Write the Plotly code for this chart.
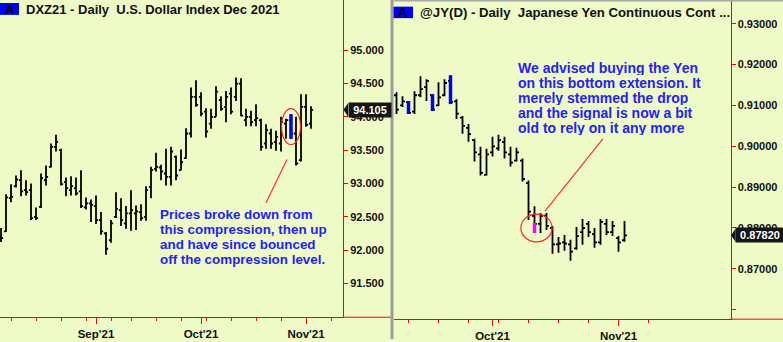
import plotly.graph_objects as go
import pandas as pd

W, H = 783, 342
BG = "#EEFBC6"
RED = "#FF0000"
TXT_BLUE = "#2222FF"
FONT = "Liberation Sans, Arial, sans-serif"

# ---------------- DATA: DXZ21 (U.S. Dollar Index Dec 2021) ----------------
dxy_dates = pd.bdate_range("2021-08-05", "2021-11-02", freq="C", holidays=["2021-09-06"])
dxy_axis_days = pd.bdate_range("2021-08-05", "2021-11-12", freq="C", holidays=["2021-09-06"])
dxy_open = [92.20, 92.28, 92.78, 92.96, 93.05, 92.90, 92.90, 92.50, 92.65, 93.05,
            93.25, 93.55, 93.50, 93.02, 92.90, 92.93, 92.88, 92.64, 92.70, 92.66,
            92.45, 92.25, 92.15, 92.50, 92.60, 92.40, 92.55, 92.55, 92.57, 92.50,
            92.95, 93.22, 93.24, 93.15, 93.10, 93.40, 93.20, 93.38, 93.75, 94.30,
            94.30, 94.08, 93.90, 94.00, 94.25, 94.15, 94.35, 94.30, 94.50, 93.95,
            94.00, 93.95, 93.95, 93.60, 93.75, 93.62, 93.60, 93.90, 93.95, 93.75,
            93.35, 94.15, 93.90]
dxy_high = [92.33, 92.84, 92.99, 93.12, 93.20, 93.05, 93.00, 92.64, 93.15, 93.27,
            93.60, 93.73, 93.52, 93.09, 93.11, 93.09, 93.20, 92.79, 92.76, 92.82,
            92.57, 92.27, 92.45, 92.87, 92.78, 92.66, 92.90, 92.67, 92.69, 92.96,
            93.25, 93.46, 93.28, 93.52, 93.55, 93.42, 93.51, 93.83, 94.44, 94.55,
            94.37, 94.13, 94.12, 94.46, 94.31, 94.39, 94.44, 94.59, 94.58, 94.12,
            94.09, 94.19, 93.97, 93.89, 93.82, 93.79, 94.00, 93.97, 94.04, 94.00,
            94.34, 94.34, 94.16]
dxy_low = [92.12, 92.27, 92.72, 92.94, 92.81, 92.82, 92.45, 92.45, 92.63, 92.97,
           93.24, 93.48, 92.97, 92.81, 92.82, 92.82, 92.63, 92.61, 92.42, 92.39,
           92.23, 91.93, 92.11, 92.48, 92.36, 92.32, 92.29, 92.30, 92.44, 92.44,
           92.78, 93.18, 93.05, 92.97, 92.97, 93.05, 93.20, 93.37, 93.69, 94.15,
           94.01, 93.69, 93.82, 94.00, 94.09, 93.92, 94.04, 94.24, 94.01, 93.86,
           93.86, 93.86, 93.49, 93.52, 93.52, 93.49, 93.48, 93.67, 93.67, 93.27,
           93.33, 93.85, 93.82]
dxy_close = [92.18, 92.79, 92.80, 93.06, 92.88, 92.87, 92.48, 92.48, 93.08, 93.10,
             93.55, 93.62, 92.99, 92.93, 92.96, 92.85, 92.66, 92.70, 92.68, 92.45,
             92.28, 92.02, 92.40, 92.62, 92.45, 92.55, 92.60, 92.58, 92.48, 92.90,
             93.20, 93.25, 93.18, 93.10, 93.48, 93.12, 93.32, 93.75, 94.30, 94.18,
             94.05, 93.78, 94.00, 94.38, 94.12, 94.30, 94.08, 94.50, 94.02, 94.00,
             93.92, 93.98, 93.55, 93.80, 93.60, 93.70, 93.92, 93.95, 93.75, 93.30,
             94.15, 93.88, 94.105]
dxy_blue_idx = [58]
dxy_yticks = [91.5, 92.0, 92.5, 93.0, 93.5, 94.0, 94.5, 95.0]
dxy_last_label = "94.105"

# ---------------- DATA: @JY(D) (Japanese Yen Continuous) ----------------
jy_dates = pd.bdate_range("2021-09-09", "2021-11-02", freq="C")
jy_axis_days = pd.bdate_range("2021-09-09", "2021-11-12", freq="C")
jy_open = [0.9125, 0.9100, 0.9108, 0.9085, 0.9125, 0.9145, 0.9125, 0.9100, 0.9125, 0.9160,
           0.9110, 0.9070, 0.9045, 0.9015, 0.8980, 0.8930, 0.8985, 0.8995, 0.9010, 0.8980,
           0.8965, 0.8965, 0.8910, 0.8830, 0.8810, 0.8830, 0.8800, 0.8760, 0.8765, 0.8760,
           0.8750, 0.8790, 0.8810, 0.8785, 0.8765, 0.8810, 0.8790, 0.8775, 0.8770]
jy_high = [0.91325, 0.91228, 0.91107, 0.91350, 0.91714, 0.91641, 0.91277, 0.91568, 0.91641, 0.91738,
           0.91155, 0.90743, 0.90549, 0.90184, 0.89990, 0.89942, 0.90233, 0.90282, 0.90233, 0.89990,
           0.89966, 0.89699, 0.89165, 0.88534, 0.88364, 0.88364, 0.88049, 0.87782, 0.87830, 0.87709,
           0.88024, 0.88218, 0.88170, 0.88000, 0.88218, 0.88218, 0.88170, 0.87806, 0.88170]
jy_low = [0.90791, 0.90961, 0.90791, 0.90791, 0.91204, 0.91107, 0.90864, 0.90985, 0.91228, 0.91034,
          0.90670, 0.90306, 0.90112, 0.89626, 0.89286, 0.89286, 0.89748, 0.89893, 0.89699, 0.89505,
          0.89626, 0.89141, 0.88194, 0.87879, 0.87879, 0.87951, 0.87369, 0.87393, 0.87442, 0.87199,
          0.87466, 0.87587, 0.87782, 0.87515, 0.87587, 0.87830, 0.87806, 0.87417, 0.87660]
jy_close = [0.9090, 0.9110, 0.9082, 0.9125, 0.9140, 0.9160, 0.9090, 0.9120, 0.9155, 0.9108,
            0.9080, 0.9050, 0.9030, 0.8985, 0.8935, 0.8980, 0.9000, 0.9015, 0.8985, 0.8960,
            0.8985, 0.8920, 0.8840, 0.8810, 0.8830, 0.8805, 0.8760, 0.8762, 0.8762, 0.8742,
            0.8780, 0.8800, 0.8790, 0.8765, 0.8815, 0.8790, 0.8805, 0.8765, 0.8782]
jy_blue_idx = [2, 6, 9]
jy_magenta_idx = [23]
jy_magenta_lo = [0.87879]
jy_magenta_hi = [0.88121]
jy_yticks = [0.86, 0.87, 0.88, 0.89, 0.90, 0.91, 0.92, 0.93]
jy_last_label = "0.87820"

title_left = "DXZ21 - Daily\u00a0\u00a0U.S. Dollar Index Dec 2021"
title_right = "@JY(D) - Daily\u00a0\u00a0Japanese Yen Continuous Cont ..."
note_left = ["Prices broke down from", "this compression, then up",
             "and have since bounced", "off the compression level."]
note_right = ["We advised buying the Yen", "on this bottom extension. It",
              "merely stemmed the drop", "and the signal is now a bit",
              "old to rely on it any more"]


def px(x):
    return x / W


def py(y):
    return 1 - y / H


def date_ticks(axis_days):
    majors, labels, minors = [], [], []
    for i in range(1, len(axis_days)):
        d, p = axis_days[i], axis_days[i - 1]
        if d.month != p.month:
            majors.append(i)
            labels.append("<b>%s'%s</b>" % (d.strftime("%b"), d.strftime("%y")))
        if d.isocalendar()[1] != p.isocalendar()[1]:
            minors.append(i)
    return majors, labels, minors


fig = go.Figure()

dxy_x = list(range(len(dxy_dates)))
jy_x = list(range(len(jy_dates)))

fig.add_trace(go.Ohlc(x=dxy_x, open=dxy_open, high=dxy_high, low=dxy_low, close=dxy_close,
                      increasing_line_color="black", decreasing_line_color="black",
                      line_width=1.8, tickwidth=0.42, xaxis="x", yaxis="y", hoverinfo="skip"))
fig.add_trace(go.Ohlc(x=jy_x, open=jy_open, high=jy_high, low=jy_low, close=jy_close,
                      increasing_line_color="black", decreasing_line_color="black",
                      line_width=1.8, tickwidth=0.42, xaxis="x2", yaxis="y2", hoverinfo="skip"))


def seg(idx, lo, hi):
    xs, ys = [], []
    for i, a, b in zip(idx, lo, hi):
        xs += [i, i, None]
        ys += [a, b, None]
    return xs, ys


bx, by = seg(dxy_blue_idx, [dxy_low[i] for i in dxy_blue_idx], [dxy_high[i] for i in dxy_blue_idx])
fig.add_trace(go.Scatter(x=bx, y=by, mode="lines", line=dict(color="#0000FF", width=3.5),
                         xaxis="x", yaxis="y", hoverinfo="skip"))
bx, by = seg(jy_blue_idx, [jy_low[i] for i in jy_blue_idx], [jy_high[i] for i in jy_blue_idx])
fig.add_trace(go.Scatter(x=bx, y=by, mode="lines", line=dict(color="#0000FF", width=3.5),
                         xaxis="x2", yaxis="y2", hoverinfo="skip"))
bx, by = seg(jy_magenta_idx, jy_magenta_lo, jy_magenta_hi)
fig.add_trace(go.Scatter(x=bx, y=by, mode="lines", line=dict(color="#FF00FF", width=3.5),
                         xaxis="x2", yaxis="y2", hoverinfo="skip"))

# axis pixel geometry
L_right, L_bottom = 343.0, 320.0
R_left, R_right, R_bottom = 394.0, 730.5, 322.0
dxy_range_y = [95 - (L_bottom - 50.7) / 67.2, 95 + 50.7 / 67.2]
jy_range_y = [0.93 - (R_bottom - 24) / 4120, 0.93 + 24 / 4120]
dxy_range_x = [-0.2, (L_right - 1) / 5.0]
jy_range_x = [(R_left - 396.5) / 6.0, (R_right - 396.5) / 6.0]

tickfont = dict(family=FONT, size=11, color="#111111")

maj, lab, mnr = date_ticks(dxy_axis_days)
xaxis = dict(domain=[0, px(L_right)], range=dxy_range_x, anchor="y",
             showline=True, linecolor=RED, linewidth=1, showgrid=False, zeroline=False,
             tickmode="array", tickvals=maj, ticktext=lab, ticks="outside", ticklen=6,
             tickcolor=RED, tickfont=dict(family=FONT, size=11.5, color="#111111"),
             minor=dict(tickmode="array", tickvals=mnr, ticks="outside", ticklen=3, tickcolor=RED),
             rangeslider=dict(visible=False), fixedrange=True)
maj2, lab2, mnr2 = date_ticks(jy_axis_days)
xaxis2 = dict(domain=[px(R_left), px(R_right)], range=jy_range_x, anchor="y2",
              showline=True, linecolor=RED, linewidth=1, showgrid=False, zeroline=False,
              tickmode="array", tickvals=maj2, ticktext=lab2, ticks="outside", ticklen=6,
              tickcolor=RED, tickfont=dict(family=FONT, size=11.5, color="#111111"),
              minor=dict(tickmode="array", tickvals=mnr2, ticks="outside", ticklen=3, tickcolor=RED),
              rangeslider=dict(visible=False), fixedrange=True)
yaxis = dict(domain=[1 - L_bottom / H, 1], range=dxy_range_y, anchor="x", side="right",
             showline=True, linecolor=RED, linewidth=1, showgrid=False, zeroline=False,
             tickmode="array", tickvals=dxy_yticks,
             ticktext=["<b>%.3f</b>" % v for v in dxy_yticks],
             ticks="outside", ticklen=4, tickcolor=RED, tickfont=tickfont, fixedrange=True)
yaxis2 = dict(domain=[1 - R_bottom / H, 1], range=jy_range_y, anchor="x2", side="right",
              showline=True, linecolor=RED, linewidth=1, showgrid=False, zeroline=False,
              tickmode="array", tickvals=jy_yticks,
              ticktext=["" if v < 0.865 else "<b>%.5f</b>" % v for v in jy_yticks],
              ticks="outside", ticklen=4, tickcolor=RED, tickfont=tickfont, fixedrange=True)

shapes = []
annotations = []

# divider + borders
shapes.append(dict(type="rect", xref="paper", yref="paper", x0=px(390.5), x1=px(393.5),
                   y0=0, y1=1, fillcolor="#9C9C9C", line=dict(width=0), layer="above"))
shapes.append(dict(type="rect", xref="paper", yref="paper", x0=px(393.5), x1=1,
                   y0=py(1.5), y1=1, fillcolor="#A8A8A8", line=dict(width=0), layer="above"))
# x axis lines extending under label area
shapes.append(dict(type="line", xref="paper", yref="paper", x0=px(L_right), x1=px(390.5),
                   y0=py(L_bottom), y1=py(L_bottom), line=dict(color=RED, width=1)))
shapes.append(dict(type="line", xref="paper", yref="paper", x0=px(R_right), x1=1,
                   y0=py(R_bottom), y1=py(R_bottom), line=dict(color=RED, width=1)))

# circles around highlighted bars
i = dxy_blue_idx[0]
cy = (dxy_high[i] + dxy_low[i]) / 2
shapes.append(dict(type="circle", xref="x", yref="y", x0=i - 1.9, x1=i + 1.9,
                   y0=cy - 0.27, y1=cy + 0.27, line=dict(color="#FF2020", width=1.2)))
k = jy_magenta_idx[0]
cy2 = (jy_magenta_lo[0] + jy_magenta_hi[0]) / 2
shapes.append(dict(type="circle", xref="x2", yref="y2", x0=k + 0.33 - 2.6, x1=k + 0.33 + 2.6,
                   y0=cy2 - 0.0034, y1=cy2 + 0.0034, line=dict(color="#FF2020", width=1.2)))
# pointer lines
shapes.append(dict(type="line", xref="x", yref="y", x0=57.2, y0=93.36, x1=53.0, y1=92.71,
                   line=dict(color="#FF3030", width=1.2)))
shapes.append(dict(type="line", xref="x2", yref="y2", x0=24.75, y0=0.88413, x1=34.4, y1=0.90184,
                   line=dict(color="#FF3030", width=1.2)))

# last price tags
shapes.append(dict(type="path", xref="paper", yref="y",
                   path="M %f,%f L %f,%f L %f,%f Z" % (px(L_right + 0.5), dxy_close[-1],
                                                      px(L_right + 5), dxy_close[-1] + 0.1,
                                                      px(L_right + 5), dxy_close[-1] - 0.1),
                   fillcolor="#151515", line=dict(width=0)))
annotations.append(dict(xref="paper", yref="y", x=px(L_right + 4.5), y=dxy_close[-1],
                        xanchor="left", yanchor="middle", text="<b>%s</b>" % dxy_last_label,
                        showarrow=False, bgcolor="#151515", borderpad=1, width=40, height=12,
                        font=dict(family=FONT, size=11, color="white")))
shapes.append(dict(type="path", xref="paper", yref="y2",
                   path="M %f,%f L %f,%f L %f,%f Z" % (px(R_right + 0.5), jy_close[-1],
                                                      px(R_right + 5), jy_close[-1] + 0.0016,
                                                      px(R_right + 5), jy_close[-1] - 0.0016),
                   fillcolor="#151515", line=dict(width=0)))
annotations.append(dict(xref="paper", yref="y2", x=px(R_right + 4.5), y=jy_close[-1],
                        xanchor="left", yanchor="middle", text="<b>%s</b>" % jy_last_label,
                        showarrow=False, bgcolor="#151515", borderpad=1, width=46, height=12,
                        font=dict(family=FONT, size=11, color="white")))

# titles
shapes.append(dict(type="rect", xref="paper", yref="paper", x0=0, x1=px(19), y0=py(15), y1=py(3),
                   fillcolor="#0000FF", line=dict(width=0)))
annotations.append(dict(xref="paper", yref="paper", x=px(9.5), y=py(9.3), xanchor="center",
                        yanchor="middle", text="<b>A</b>", showarrow=False,
                        font=dict(family=FONT, size=13, color="black")))
annotations.append(dict(xref="paper", yref="paper", x=px(24), y=py(9.5), xanchor="left",
                        yanchor="middle", text="<b>%s</b>" % title_left, showarrow=False,
                        font=dict(family=FONT, size=13, color="#111111")))
shapes.append(dict(type="rect", xref="paper", yref="paper", x0=px(393.5), x1=px(413), y0=py(18.3),
                   y1=py(6.7), fillcolor="#0000FF", line=dict(width=0), layer="above"))
annotations.append(dict(xref="paper", yref="paper", x=px(403), y=py(12.6), xanchor="center",
                        yanchor="middle", text="<b>A</b>", showarrow=False,
                        font=dict(family=FONT, size=13, color="black")))
annotations.append(dict(xref="paper", yref="paper", x=px(418), y=py(12.6), xanchor="left",
                        yanchor="middle", text="<b>%s</b>" % title_right, showarrow=False,
                        font=dict(family=FONT, size=13.2, color="#111111")))

# notes
for j, line in enumerate(note_left):
    annotations.append(dict(xref="paper", yref="paper", x=px(157.5), y=py(216.5 + 15 * j),
                            xanchor="left", yanchor="middle", text="<b>%s</b>" % line,
                            showarrow=False, font=dict(family=FONT, size=13.4, color=TXT_BLUE)))
for j, line in enumerate(note_right):
    annotations.append(dict(xref="paper", yref="paper", x=px(517), y=py(68.3 + 15 * j),
                            xanchor="left", yanchor="middle", text="<b>%s</b>" % line,
                            showarrow=False, borderpad=0, height=15,
                            font=dict(family=FONT, size=14, color=TXT_BLUE)))

fig.update_layout(width=W, height=H, autosize=False, margin=dict(l=0, r=0, t=0, b=0, pad=0),
                  paper_bgcolor=BG, plot_bgcolor=BG, showlegend=False, hovermode=False,
                  xaxis=xaxis, xaxis2=xaxis2, yaxis=yaxis, yaxis2=yaxis2,
                  shapes=shapes, annotations=annotations)

fig.write_html("out.html", config={"displayModeBar": False})
